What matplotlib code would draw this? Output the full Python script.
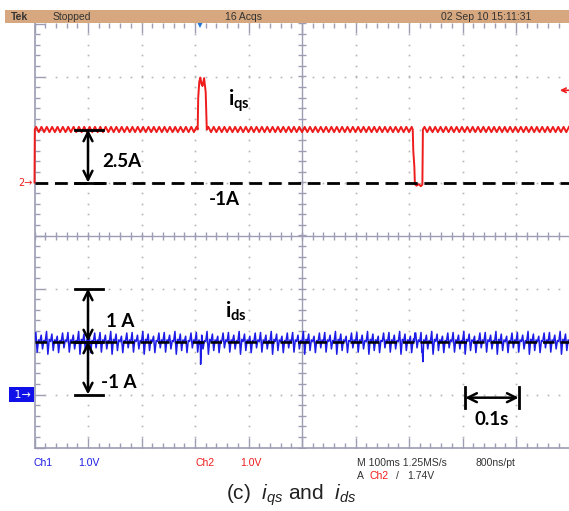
import numpy as np
import matplotlib.pyplot as plt
from matplotlib.patches import Rectangle

plt.rcParams['mathtext.fontset'] = 'custom'
plt.rcParams['mathtext.rm'] = 'Liberation Sans'
plt.rcParams['mathtext.it'] = 'Liberation Sans:italic'
plt.rcParams['mathtext.bf'] = 'Lato:bold'

W, H = 569, 511

# scope screen: 10 div x 100 ms, values in divisions
ms_per_div = 100.0

# Ch2 -> i_qs (red)
qs_ground = 1.0
qs_level = 2.0
qs_swing = [0.05, -0.05]
qs_start_t = [0.0, 0.6]
qs_start_v = [1.0, 2.0]
qs_spike_t = [305, 306, 308, 310, 312, 314, 317, 320, 322]
qs_spike_v = [2.0, 2.6, 2.9, 2.98, 2.86, 2.82, 2.97, 2.7, 2.0]
qs_dip_t = [707, 708, 710, 711, 714, 718, 722, 725, 726]
qs_dip_v = [2.0, 1.6, 1.3, 0.97, 0.94, 0.97, 0.93, 0.96, 2.0]

# Ch1 -> i_ds (blue)
ds_ground = -3.0
ds_level = -2.0
ds_swing = [0.0, 0.17, -0.2, 0.03, 0.0, 0.12, -0.14, 0.02,
            0.0, 0.19, -0.24, 0.04, 0.0, 0.14, -0.17, 0.03,
            0.0, 0.10, -0.21, 0.02, 0.0, 0.16, -0.12, 0.03]
ds_glitch_t = [309, 310.5, 312, 709, 711, 724, 726]
ds_glitch_v = [-2.05, -2.43, -2.1, -1.95, -1.84, -2.2, -2.38]

trig_pos = 3.1     # div, trigger marker on top edge
trig_level = 2.74  # div, ch2 trigger level (1.74 V above ground)

header = [("Tek", 11), ("Stopped", 53), ("16 Acqs", 225), ("02 Sep 10 15:11:31", 441)]


def ripple(level, swing, t0, t1, step):
    t = np.arange(t0, t1, step)
    return t, level + np.resize(np.array(swing), t.size)


def px(x, y):
    return x / W, 1 - y / H


# build traces
r1 = ripple(qs_level, qs_swing, 3, 305, 5)
r2 = ripple(qs_level, qs_swing, 325, 707, 5)
r3 = ripple(qs_level, qs_swing, 729, 1001, 5)
qs_t = np.concatenate([qs_start_t, r1[0], qs_spike_t, r2[0], qs_dip_t, r3[0]])
qs_v = np.concatenate([qs_start_v, r1[1], qs_spike_v, r2[1], qs_dip_v, r3[1]])

d_t, d_v = ripple(ds_level, ds_swing, 0, 1001, 2.5)
ds_t = np.concatenate([d_t, ds_glitch_t])
ds_v = np.concatenate([d_v, ds_glitch_v])
order = np.argsort(ds_t, kind='stable')
ds_t, ds_v = ds_t[order], ds_v[order]

fig = plt.figure(figsize=(W / 100, H / 100), dpi=100)
fig.patch.set_facecolor('white')

# header bar
fig.patches.append(Rectangle(px(5, 23), (W - 5) / W, 13 / H, transform=fig.transFigure,
                             facecolor='#d7a87f', edgecolor='none'))
for txt, x in header:
    fig.text(*px(x, 16.5), txt, fontsize=7.5, color='#333333', va='center',
             family=['Liberation Sans Narrow', 'Liberation Sans'],
             weight='bold' if txt == 'Tek' else 'normal')

ax = fig.add_axes([34.5 / W, 1 - 447.5 / H, 535 / W, 424 / H])
ax.set_xlim(0, 10)
ax.set_ylim(-4, 4)
grid_c = '#9c9cb4'
dot_c = '#b4b4b4'
for s in ['top', 'right']:
    ax.spines[s].set_visible(False)
for s in ['left', 'bottom']:
    ax.spines[s].set_color(grid_c)
    ax.spines[s].set_linewidth(1.2)
ax.set_xticks(np.arange(0, 11, 1))
ax.set_xticks(np.arange(0, 10.01, 0.2), minor=True)
ax.set_yticks(np.arange(-4, 5, 1))
ax.set_yticks(np.arange(-4, 4.01, 0.2), minor=True)
ax.tick_params(which='both', direction='in', top=True, bottom=True, left=True, right=False,
               labelbottom=False, labelleft=False, color=grid_c, width=1)
ax.tick_params(which='major', length=7)
ax.tick_params(which='minor', length=3.5)

# dotted graticule
fine_x = np.arange(0, 10.01, 0.2)
fine_y = np.arange(-4, 4.01, 0.2)
for gx in range(1, 10):
    if gx != 5:
        ax.plot(np.full(fine_y.size, gx), fine_y, ls='none', marker='s', ms=1.2, mew=0, color=dot_c)
for gy in range(-3, 4):
    if gy != 0:
        ax.plot(fine_x, np.full(fine_x.size, gy), ls='none', marker='s', ms=1.2, mew=0, color=dot_c)
ax.axvline(5, color=grid_c, lw=1)
ax.axhline(0, color=grid_c, lw=1)
ax.plot(np.full(fine_y.size, 5), fine_y, ls='none', marker='_', ms=6, mew=1, color=grid_c)
ax.plot(fine_x, np.zeros(fine_x.size), ls='none', marker='|', ms=6, mew=1, color=grid_c)

# traces
red = '#ee1c1c'
blue = '#1c1ce6'
ax.plot(qs_t / ms_per_div, qs_v, color=red, lw=1.4, zorder=3, clip_on=False)
ax.plot(ds_t / ms_per_div, ds_v, color=blue, lw=1.1, zorder=3)

# black annotations
dash = (0, (4.6, 2.4))
ax.plot([0, 10], [qs_ground, qs_ground], color='black', lw=2, ls=dash, zorder=4)
ax.plot([0, 10], [ds_level, ds_level], color='black', lw=1.8, ls=dash, zorder=4)
arr = dict(arrowstyle='<->', color='black', lw=1.8, mutation_scale=16, shrinkA=0, shrinkB=0)
ax.annotate('', xy=(1.0, qs_level), xytext=(1.0, qs_ground), arrowprops=arr, zorder=5)
ax.annotate('', xy=(1.0, ds_level + 1), xytext=(1.0, ds_level), arrowprops=arr, zorder=5)
ax.annotate('', xy=(1.0, ds_level), xytext=(1.0, ds_level - 1), arrowprops=arr, zorder=5)
for yb in [qs_level, qs_ground, ds_level + 1, ds_level, ds_level - 1]:
    ax.plot([0.76, 1.28], [yb, yb], color='black', lw=2, zorder=5)
ax.annotate('', xy=(8.05, -3.06), xytext=(9.05, -3.06), arrowprops=arr, zorder=5)
for xb in [8.05, 9.05]:
    ax.plot([xb, xb], [-2.86, -3.26], color='black', lw=2, zorder=5)

bold = dict(family='Lato', weight='bold', fontsize=13.5, color='black', ha='center', va='center', zorder=6)
ax.text(1.64, 1.39, '2.5A', **bold)
ax.text(3.54, 0.67, '-1A', **bold)
ax.text(1.6, -1.63, '1 A', **bold)
ax.text(1.58, -2.78, '-1 A', **bold)
ax.text(8.55, -3.48, '0.1s', **bold)
ax.text(3.62, 2.45, r'$\mathbf{i}_{\mathbf{qs}}$', fontsize=15, ha='left', va='baseline', zorder=6)
ax.text(3.56, -1.56, r'$\mathbf{i}_{\mathbf{ds}}$', fontsize=15, ha='left', va='baseline', zorder=6)

# channel markers
ytr = ax.get_yaxis_transform()
ax.text(-0.004, qs_ground, '2\u2192', transform=ytr, ha='right', va='center', color=red,
        fontsize=7, clip_on=False)
ax.text(-0.006, ds_ground, ' 1\u2192', transform=ytr, ha='right', va='center', color='white',
        fontsize=8, clip_on=False, bbox=dict(facecolor='#1010e8', edgecolor='none', pad=1.6))
ax.plot([trig_pos], [4.0], marker='v', ms=6, color='#2277dd', mew=0, clip_on=False, zorder=6)
ax.annotate('', xy=(9.82, trig_level), xytext=(10.05, trig_level), annotation_clip=False,
            arrowprops=dict(arrowstyle='->', color=red, lw=1.2, mutation_scale=8,
                            shrinkA=0, shrinkB=0))

# bottom readout
small = dict(fontsize=7.5, va='center', family=['Liberation Sans Narrow', 'Liberation Sans'])
fig.text(*px(34, 463), 'Ch1', color=blue, **small)
fig.text(*px(78, 463), '1.0V', color=blue, **small)
fig.text(*px(196, 463), 'Ch2', color=red, **small)
fig.text(*px(240, 463), '1.0V', color=red, **small)
fig.text(*px(357, 463), 'M 100ms 1.25MS/s', color='#333333', **small)
fig.text(*px(475, 463), '800ns/pt', color='#333333', **small)
fig.text(*px(357, 476), 'A', color='#333333', **small)
fig.text(*px(369, 476), 'Ch2', color=red, **small)
fig.text(*px(396, 476), '/', color='#333333', **small)
fig.text(*px(407, 476), '1.74V', color='#333333', **small)

fig.text(*px(291, 495), r'(c)  $i_{qs}$ and  $i_{ds}$', fontsize=15, color='#222222',
         ha='center', va='center', family='Liberation Sans')

fig.savefig('out.png', dpi=100)
